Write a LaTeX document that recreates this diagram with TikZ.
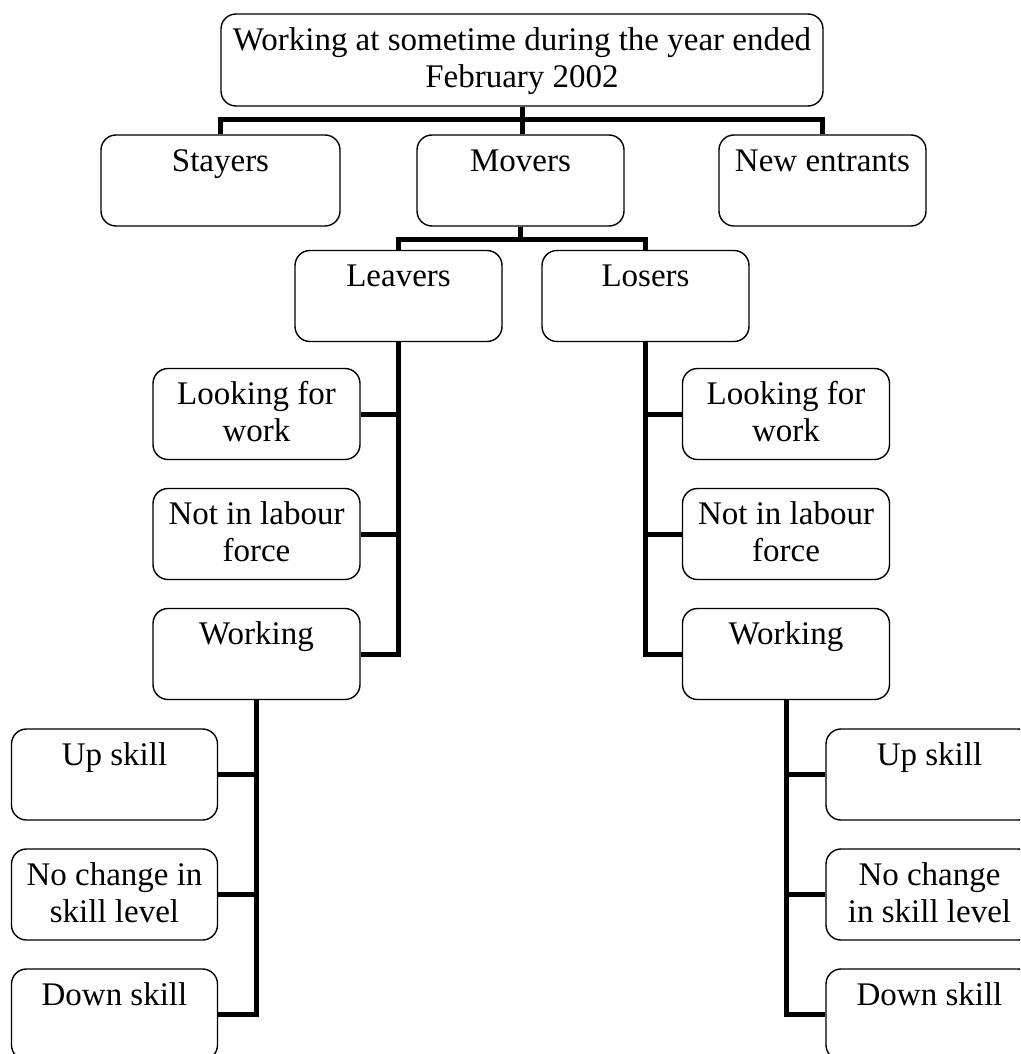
\documentclass[tikz,border=0pt]{standalone}
\usepackage{fontspec}
\setmainfont{Liberation Serif}
\newcommand{\bxt}[2]{\parbox[c][89pt][t]{#1}{\centering\rule{0pt}{35pt}#2}}
\begin{document}
\begin{tikzpicture}[x=1pt,y=-1pt,
  box/.style={draw=black,line width=1.4pt,rounded corners=15pt,inner sep=0pt,
    minimum height=91pt,font=\fontsize{33}{37}\selectfont},
  conn/.style={draw=black,line width=5pt}]
\useasboundingbox (0,0) rectangle (1020,1054);
\clip (0,0) rectangle (1020,1054);
% top level
\node[box,minimum width=602pt,minimum height=92pt] (top) at (522,60) {\bxt{600pt}{Working at sometime during the year ended\\February 2002}};
\node[box,minimum width=239pt] (stay) at (220.5,180.5) {\bxt{237pt}{Stayers}};
\node[box,minimum width=207pt] (mov) at (520.5,180.5) {\bxt{205pt}{Movers}};
\node[box,minimum width=207pt] (newe) at (822.5,180.5) {\bxt{205pt}{New entrants}};
% second level
\node[box,minimum width=207pt] (leav) at (398.5,296) {\bxt{205pt}{Leavers}};
\node[box,minimum width=207pt] (los) at (645.5,296) {\bxt{205pt}{Losers}};
% leavers children
\node[box,minimum width=207pt] (llf) at (256.5,414) {\bxt{205pt}{Looking for\\work}};
\node[box,minimum width=207pt] (lnl) at (256.5,534) {\bxt{205pt}{Not in labour\\force}};
\node[box,minimum width=207pt] (lwk) at (256.5,654) {\bxt{205pt}{Working}};
% losers children
\node[box,minimum width=207pt] (rlf) at (786,414) {\bxt{205pt}{Looking for\\work}};
\node[box,minimum width=207pt] (rnl) at (786,534) {\bxt{205pt}{Not in labour\\force}};
\node[box,minimum width=207pt] (rwk) at (786,654) {\bxt{205pt}{Working}};
% left working children
\node[box,minimum width=206pt] (lup) at (114.5,774.5) {\bxt{204pt}{Up skill}};
\node[box,minimum width=206pt] (lno) at (114.5,894.5) {\bxt{204pt}{No change in\\skill level}};
\node[box,minimum width=206pt] (ldn) at (114.5,1014.5) {\bxt{204pt}{Down skill}};
% right working children
\node[box,minimum width=207pt] (rup) at (929.5,774.5) {\bxt{205pt}{Up skill}};
\node[box,minimum width=207pt] (rno) at (929.5,894.5) {\bxt{205pt}{No change\\in skill level}};
\node[box,minimum width=207pt] (rdn) at (929.5,1014.5) {\bxt{205pt}{Down skill}};
% connectors
\coordinate (j1) at (522,120);
\draw[conn] (top.south) -- (j1);
\draw[conn] (stay.north) |- (j1);
\draw[conn] (newe.north) |- (j1);
\draw[conn] (mov.north -| j1) -- (j1);
\coordinate (j2) at (520.5,239);
\draw[conn] (mov.south) -- (j2);
\draw[conn] (leav.north) |- (j2);
\draw[conn] (los.north) |- (j2);
\draw[conn] (leav.south) |- (lwk.east);
\draw[conn] (llf.east) -- (llf.east -| leav.south);
\draw[conn] (lnl.east) -- (lnl.east -| leav.south);
\draw[conn] (los.south) |- (rwk.west);
\draw[conn] (rlf.west) -- (rlf.west -| los.south);
\draw[conn] (rnl.west) -- (rnl.west -| los.south);
\draw[conn] (lwk.south) |- (ldn.east);
\draw[conn] (lup.east) -- (lup.east -| lwk.south);
\draw[conn] (lno.east) -- (lno.east -| lwk.south);
\draw[conn] (rwk.south) |- (rdn.west);
\draw[conn] (rup.west) -- (rup.west -| rwk.south);
\draw[conn] (rno.west) -- (rno.west -| rwk.south);
\end{tikzpicture}
\end{document}
